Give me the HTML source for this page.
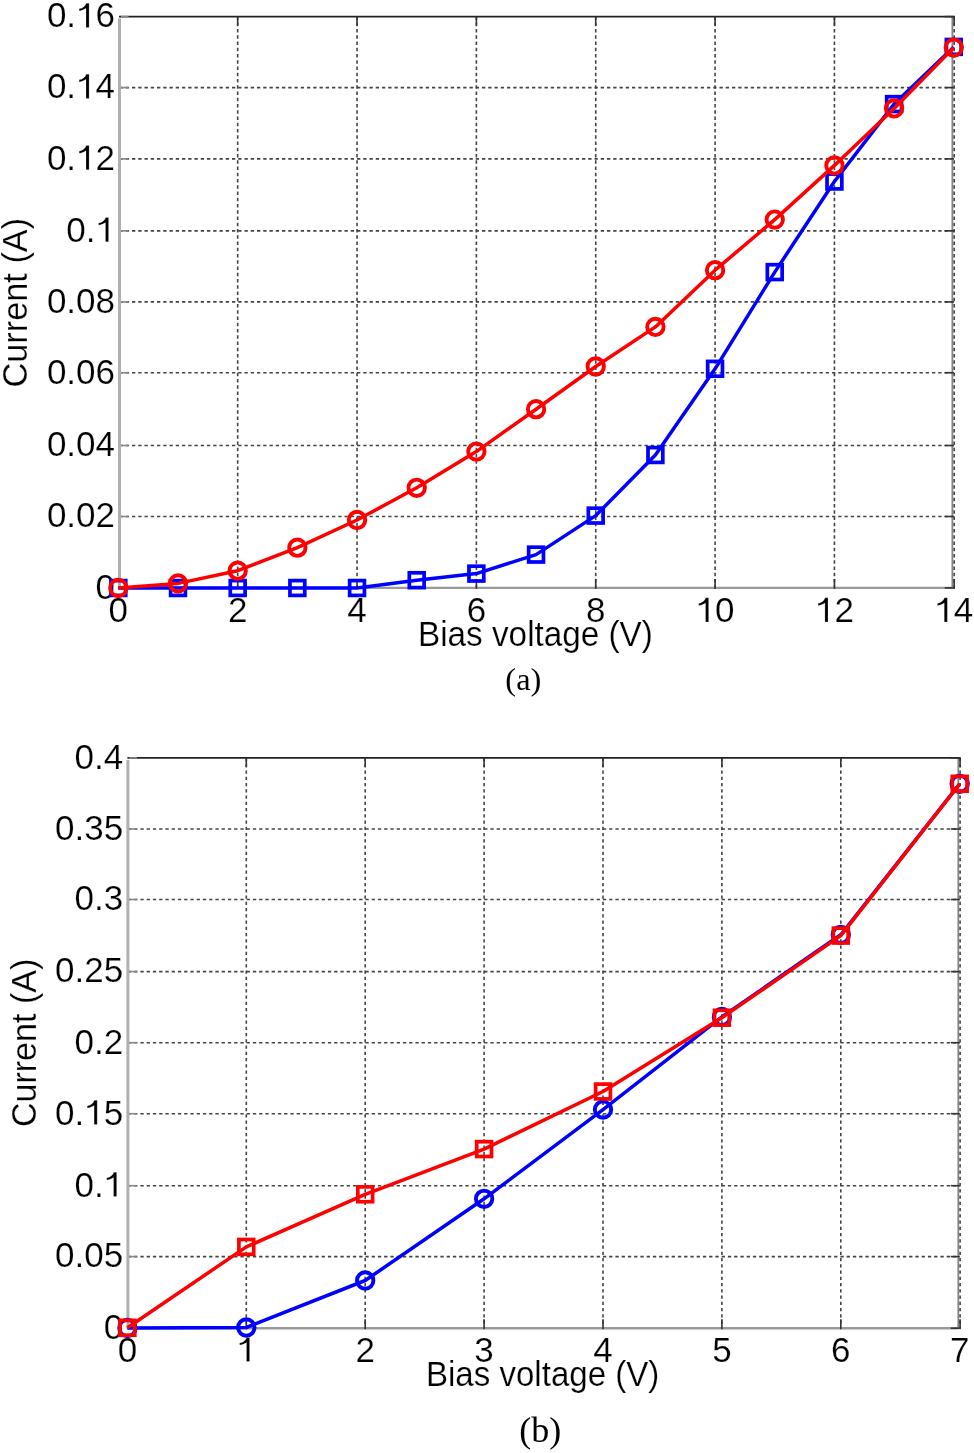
<!DOCTYPE html>
<html><head><meta charset="utf-8"><style>
html,body{margin:0;padding:0;background:#fff;width:974px;height:1453px;overflow:hidden}
svg{display:block;will-change:transform}
.t{font-family:"Liberation Sans",sans-serif;font-size:35px;fill:#000;stroke:#fff;stroke-width:0.2px}
.s{font-family:"Liberation Serif",serif;fill:#000}
</style></head><body>
<svg width="974" height="1453" viewBox="0 0 974 1453">
<line x1="237.69" y1="16.6" x2="237.69" y2="587.9" stroke="#444" stroke-width="1.6" stroke-dasharray="3.3 2.95"/>
<line x1="357.04" y1="16.6" x2="357.04" y2="587.9" stroke="#444" stroke-width="1.6" stroke-dasharray="3.3 2.95"/>
<line x1="476.38" y1="16.6" x2="476.38" y2="587.9" stroke="#444" stroke-width="1.6" stroke-dasharray="3.3 2.95"/>
<line x1="595.73" y1="16.6" x2="595.73" y2="587.9" stroke="#444" stroke-width="1.6" stroke-dasharray="3.3 2.95"/>
<line x1="715.08" y1="16.6" x2="715.08" y2="587.9" stroke="#444" stroke-width="1.6" stroke-dasharray="3.3 2.95"/>
<line x1="834.43" y1="16.6" x2="834.43" y2="587.9" stroke="#444" stroke-width="1.6" stroke-dasharray="3.3 2.95"/>
<line x1="119.5" y1="516.5" x2="953.78" y2="516.5" stroke="#444" stroke-width="1.6" stroke-dasharray="3.3 2.95"/>
<line x1="119.5" y1="445.5" x2="953.78" y2="445.5" stroke="#444" stroke-width="1.6" stroke-dasharray="3.3 2.95"/>
<line x1="119.5" y1="372.7" x2="953.78" y2="372.7" stroke="#444" stroke-width="1.6" stroke-dasharray="3.3 2.95"/>
<line x1="119.5" y1="301.9" x2="953.78" y2="301.9" stroke="#444" stroke-width="1.6" stroke-dasharray="3.3 2.95"/>
<line x1="119.5" y1="230.85" x2="953.78" y2="230.85" stroke="#444" stroke-width="1.6" stroke-dasharray="3.3 2.95"/>
<line x1="119.5" y1="158.9" x2="953.78" y2="158.9" stroke="#444" stroke-width="1.6" stroke-dasharray="3.3 2.95"/>
<line x1="119.5" y1="87.6" x2="953.78" y2="87.6" stroke="#444" stroke-width="1.6" stroke-dasharray="3.3 2.95"/>
<line x1="952.38" y1="16.6" x2="952.38" y2="587.9" stroke="#858585" stroke-width="1.8"/>
<line x1="954.18" y1="16.6" x2="954.18" y2="587.9" stroke="#444" stroke-width="1.6" stroke-dasharray="3.3 2.95"/>
<line x1="119" y1="16.6" x2="954.78" y2="16.6" stroke="#222" stroke-width="1.8"/>
<line x1="119.5" y1="18.6" x2="119.5" y2="588.9" stroke="#b0b0b0" stroke-width="3"/>
<line x1="119.5" y1="587.9" x2="952.28" y2="587.9" stroke="#999" stroke-width="2.4"/>
<line x1="121" y1="587.9" x2="128.5" y2="587.9" stroke="#888" stroke-width="1.6"/>
<line x1="953.78" y1="587.9" x2="944.78" y2="587.9" stroke="#333" stroke-width="1.6"/>
<line x1="121" y1="516.5" x2="128.5" y2="516.5" stroke="#888" stroke-width="1.6"/>
<line x1="953.78" y1="516.5" x2="944.78" y2="516.5" stroke="#333" stroke-width="1.6"/>
<line x1="121" y1="445.5" x2="128.5" y2="445.5" stroke="#888" stroke-width="1.6"/>
<line x1="953.78" y1="445.5" x2="944.78" y2="445.5" stroke="#333" stroke-width="1.6"/>
<line x1="121" y1="372.7" x2="128.5" y2="372.7" stroke="#888" stroke-width="1.6"/>
<line x1="953.78" y1="372.7" x2="944.78" y2="372.7" stroke="#333" stroke-width="1.6"/>
<line x1="121" y1="301.9" x2="128.5" y2="301.9" stroke="#888" stroke-width="1.6"/>
<line x1="953.78" y1="301.9" x2="944.78" y2="301.9" stroke="#333" stroke-width="1.6"/>
<line x1="121" y1="230.85" x2="128.5" y2="230.85" stroke="#888" stroke-width="1.6"/>
<line x1="953.78" y1="230.85" x2="944.78" y2="230.85" stroke="#333" stroke-width="1.6"/>
<line x1="121" y1="158.9" x2="128.5" y2="158.9" stroke="#888" stroke-width="1.6"/>
<line x1="953.78" y1="158.9" x2="944.78" y2="158.9" stroke="#333" stroke-width="1.6"/>
<line x1="121" y1="87.6" x2="128.5" y2="87.6" stroke="#888" stroke-width="1.6"/>
<line x1="953.78" y1="87.6" x2="944.78" y2="87.6" stroke="#333" stroke-width="1.6"/>
<line x1="121" y1="16.6" x2="128.5" y2="16.6" stroke="#888" stroke-width="1.6"/>
<line x1="953.78" y1="16.6" x2="944.78" y2="16.6" stroke="#333" stroke-width="1.6"/>
<line x1="237.69" y1="588.9" x2="237.69" y2="578.9" stroke="#333" stroke-width="1.6"/>
<line x1="237.69" y1="16.6" x2="237.69" y2="25.6" stroke="#333" stroke-width="1.6"/>
<line x1="357.04" y1="588.9" x2="357.04" y2="578.9" stroke="#333" stroke-width="1.6"/>
<line x1="357.04" y1="16.6" x2="357.04" y2="25.6" stroke="#333" stroke-width="1.6"/>
<line x1="476.38" y1="588.9" x2="476.38" y2="578.9" stroke="#333" stroke-width="1.6"/>
<line x1="476.38" y1="16.6" x2="476.38" y2="25.6" stroke="#333" stroke-width="1.6"/>
<line x1="595.73" y1="588.9" x2="595.73" y2="578.9" stroke="#333" stroke-width="1.6"/>
<line x1="595.73" y1="16.6" x2="595.73" y2="25.6" stroke="#333" stroke-width="1.6"/>
<line x1="715.08" y1="588.9" x2="715.08" y2="578.9" stroke="#333" stroke-width="1.6"/>
<line x1="715.08" y1="16.6" x2="715.08" y2="25.6" stroke="#333" stroke-width="1.6"/>
<line x1="834.43" y1="588.9" x2="834.43" y2="578.9" stroke="#333" stroke-width="1.6"/>
<line x1="834.43" y1="16.6" x2="834.43" y2="25.6" stroke="#333" stroke-width="1.6"/>
<line x1="954.18" y1="588.9" x2="954.18" y2="578.9" stroke="#333" stroke-width="1.6"/>
<line x1="954.18" y1="16.6" x2="954.18" y2="25.6" stroke="#333" stroke-width="1.6"/>
<text x="95.54" y="598.7" class="t">0</text>
<text x="46.89" y="527.3" class="t">0.02</text>
<text x="46.89" y="456.3" class="t">0.04</text>
<text x="46.89" y="383.5" class="t">0.06</text>
<text x="46.89" y="312.7" class="t">0.08</text>
<text x="66.35" y="241.65" class="t">0.</text>
<path transform="translate(95.54,241.65) scale(35,-35)" d="M0.372 0L0.284 0L0.284 0.545C0.24 0.51 0.17 0.482 0.09 0.472L0.086 0.53C0.19 0.545 0.255 0.6 0.29 0.69L0.372 0.69Z" fill="#000" stroke="#fff" stroke-width="0.0057"/>
<text x="46.89" y="169.7" class="t">0.</text>
<path transform="translate(76.08,169.7) scale(35,-35)" d="M0.372 0L0.284 0L0.284 0.545C0.24 0.51 0.17 0.482 0.09 0.472L0.086 0.53C0.19 0.545 0.255 0.6 0.29 0.69L0.372 0.69Z" fill="#000" stroke="#fff" stroke-width="0.0057"/>
<text x="95.54" y="169.7" class="t">2</text>
<text x="46.89" y="98.4" class="t">0.</text>
<path transform="translate(76.08,98.4) scale(35,-35)" d="M0.372 0L0.284 0L0.284 0.545C0.24 0.51 0.17 0.482 0.09 0.472L0.086 0.53C0.19 0.545 0.255 0.6 0.29 0.69L0.372 0.69Z" fill="#000" stroke="#fff" stroke-width="0.0057"/>
<text x="95.54" y="98.4" class="t">4</text>
<text x="46.89" y="27.4" class="t">0.</text>
<path transform="translate(76.08,27.4) scale(35,-35)" d="M0.372 0L0.284 0L0.284 0.545C0.24 0.51 0.17 0.482 0.09 0.472L0.086 0.53C0.19 0.545 0.255 0.6 0.29 0.69L0.372 0.69Z" fill="#000" stroke="#fff" stroke-width="0.0057"/>
<text x="95.54" y="27.4" class="t">6</text>
<text x="108.61" y="622" class="t">0</text>
<text x="227.96" y="622" class="t">2</text>
<text x="347.31" y="622" class="t">4</text>
<text x="466.65" y="622" class="t">6</text>
<text x="586" y="622" class="t">8</text>
<path transform="translate(695.62,622) scale(35,-35)" d="M0.372 0L0.284 0L0.284 0.545C0.24 0.51 0.17 0.482 0.09 0.472L0.086 0.53C0.19 0.545 0.255 0.6 0.29 0.69L0.372 0.69Z" fill="#000" stroke="#fff" stroke-width="0.0057"/>
<text x="715.08" y="622" class="t">0</text>
<path transform="translate(814.97,622) scale(35,-35)" d="M0.372 0L0.284 0L0.284 0.545C0.24 0.51 0.17 0.482 0.09 0.472L0.086 0.53C0.19 0.545 0.255 0.6 0.29 0.69L0.372 0.69Z" fill="#000" stroke="#fff" stroke-width="0.0057"/>
<text x="834.43" y="622" class="t">2</text>
<path transform="translate(934.32,622) scale(35,-35)" d="M0.372 0L0.284 0L0.284 0.545C0.24 0.51 0.17 0.482 0.09 0.472L0.086 0.53C0.19 0.545 0.255 0.6 0.29 0.69L0.372 0.69Z" fill="#000" stroke="#fff" stroke-width="0.0057"/>
<text x="953.78" y="622" class="t">4</text>
<polyline points="118.34,588 178.01,588 237.69,588 297.36,588 357.04,588 416.71,580.2 476.38,573.6 536.06,554.6 595.73,515.6 655.41,455 715.08,368.8 774.75,272.1 834.43,181.5 894.1,104.1 953.78,46.9" fill="none" stroke="#0000ff" stroke-width="3.5" stroke-linejoin="round"/>
<rect x="110.94" y="580.6" width="14.8" height="14.8" fill="none" stroke="#0000ff" stroke-width="3.7"/>
<rect x="170.61" y="580.6" width="14.8" height="14.8" fill="none" stroke="#0000ff" stroke-width="3.7"/>
<rect x="230.29" y="580.6" width="14.8" height="14.8" fill="none" stroke="#0000ff" stroke-width="3.7"/>
<rect x="289.96" y="580.6" width="14.8" height="14.8" fill="none" stroke="#0000ff" stroke-width="3.7"/>
<rect x="349.64" y="580.6" width="14.8" height="14.8" fill="none" stroke="#0000ff" stroke-width="3.7"/>
<rect x="409.31" y="572.8" width="14.8" height="14.8" fill="none" stroke="#0000ff" stroke-width="3.7"/>
<rect x="468.98" y="566.2" width="14.8" height="14.8" fill="none" stroke="#0000ff" stroke-width="3.7"/>
<rect x="528.66" y="547.2" width="14.8" height="14.8" fill="none" stroke="#0000ff" stroke-width="3.7"/>
<rect x="588.33" y="508.2" width="14.8" height="14.8" fill="none" stroke="#0000ff" stroke-width="3.7"/>
<rect x="648.01" y="447.6" width="14.8" height="14.8" fill="none" stroke="#0000ff" stroke-width="3.7"/>
<rect x="707.68" y="361.4" width="14.8" height="14.8" fill="none" stroke="#0000ff" stroke-width="3.7"/>
<rect x="767.35" y="264.7" width="14.8" height="14.8" fill="none" stroke="#0000ff" stroke-width="3.7"/>
<rect x="827.03" y="174.1" width="14.8" height="14.8" fill="none" stroke="#0000ff" stroke-width="3.7"/>
<rect x="886.7" y="96.7" width="14.8" height="14.8" fill="none" stroke="#0000ff" stroke-width="3.7"/>
<rect x="946.38" y="39.5" width="14.8" height="14.8" fill="none" stroke="#0000ff" stroke-width="3.7"/>
<polyline points="118.34,588 178.01,583.4 237.69,570.7 297.36,547.7 357.04,520 416.71,487.8 476.38,451.6 536.06,409.2 595.73,366.5 655.41,326.9 715.08,270.2 774.75,219.6 834.43,165.4 894.1,108.4 953.78,47.6" fill="none" stroke="#ff0000" stroke-width="3.5" stroke-linejoin="round"/>
<circle cx="118.34" cy="588" r="8.2" fill="none" stroke="#ff0000" stroke-width="3.9"/>
<circle cx="178.01" cy="583.4" r="8.2" fill="none" stroke="#ff0000" stroke-width="3.9"/>
<circle cx="237.69" cy="570.7" r="8.2" fill="none" stroke="#ff0000" stroke-width="3.9"/>
<circle cx="297.36" cy="547.7" r="8.2" fill="none" stroke="#ff0000" stroke-width="3.9"/>
<circle cx="357.04" cy="520" r="8.2" fill="none" stroke="#ff0000" stroke-width="3.9"/>
<circle cx="416.71" cy="487.8" r="8.2" fill="none" stroke="#ff0000" stroke-width="3.9"/>
<circle cx="476.38" cy="451.6" r="8.2" fill="none" stroke="#ff0000" stroke-width="3.9"/>
<circle cx="536.06" cy="409.2" r="8.2" fill="none" stroke="#ff0000" stroke-width="3.9"/>
<circle cx="595.73" cy="366.5" r="8.2" fill="none" stroke="#ff0000" stroke-width="3.9"/>
<circle cx="655.41" cy="326.9" r="8.2" fill="none" stroke="#ff0000" stroke-width="3.9"/>
<circle cx="715.08" cy="270.2" r="8.2" fill="none" stroke="#ff0000" stroke-width="3.9"/>
<circle cx="774.75" cy="219.6" r="8.2" fill="none" stroke="#ff0000" stroke-width="3.9"/>
<circle cx="834.43" cy="165.4" r="8.2" fill="none" stroke="#ff0000" stroke-width="3.9"/>
<circle cx="894.1" cy="108.4" r="8.2" fill="none" stroke="#ff0000" stroke-width="3.9"/>
<circle cx="953.78" cy="47.6" r="8.2" fill="none" stroke="#ff0000" stroke-width="3.9"/>
<text transform="translate(418.01,646.4) scale(0.9511,1)" font-size="34.45" class="t">Bias voltage (V)</text>
<text transform="translate(27.1,387.52) rotate(-90) scale(0.9807,1)" font-size="34.30" class="t">Current (A)</text>
<text x="505.37" y="690.1" font-size="32.4" class="s">(a)</text>
<line x1="246.3" y1="757.9" x2="246.3" y2="1328.2" stroke="#444" stroke-width="1.6" stroke-dasharray="3.3 2.95"/>
<line x1="365.2" y1="757.9" x2="365.2" y2="1328.2" stroke="#444" stroke-width="1.6" stroke-dasharray="3.3 2.95"/>
<line x1="484.1" y1="757.9" x2="484.1" y2="1328.2" stroke="#444" stroke-width="1.6" stroke-dasharray="3.3 2.95"/>
<line x1="603" y1="757.9" x2="603" y2="1328.2" stroke="#444" stroke-width="1.6" stroke-dasharray="3.3 2.95"/>
<line x1="721.9" y1="757.9" x2="721.9" y2="1328.2" stroke="#444" stroke-width="1.6" stroke-dasharray="3.3 2.95"/>
<line x1="840.8" y1="757.9" x2="840.8" y2="1328.2" stroke="#444" stroke-width="1.6" stroke-dasharray="3.3 2.95"/>
<line x1="127.9" y1="1256.6" x2="959.7" y2="1256.6" stroke="#444" stroke-width="1.6" stroke-dasharray="3.3 2.95"/>
<line x1="127.9" y1="1185.7" x2="959.7" y2="1185.7" stroke="#444" stroke-width="1.6" stroke-dasharray="3.3 2.95"/>
<line x1="127.9" y1="1113.7" x2="959.7" y2="1113.7" stroke="#444" stroke-width="1.6" stroke-dasharray="3.3 2.95"/>
<line x1="127.9" y1="1042.7" x2="959.7" y2="1042.7" stroke="#444" stroke-width="1.6" stroke-dasharray="3.3 2.95"/>
<line x1="127.9" y1="971.6" x2="959.7" y2="971.6" stroke="#444" stroke-width="1.6" stroke-dasharray="3.3 2.95"/>
<line x1="127.9" y1="899.5" x2="959.7" y2="899.5" stroke="#444" stroke-width="1.6" stroke-dasharray="3.3 2.95"/>
<line x1="127.9" y1="829" x2="959.7" y2="829" stroke="#444" stroke-width="1.6" stroke-dasharray="3.3 2.95"/>
<line x1="958.3" y1="757.9" x2="958.3" y2="1328.2" stroke="#858585" stroke-width="1.8"/>
<line x1="960.1" y1="757.9" x2="960.1" y2="1328.2" stroke="#444" stroke-width="1.6" stroke-dasharray="3.3 2.95"/>
<line x1="127.4" y1="757.9" x2="960.7" y2="757.9" stroke="#222" stroke-width="1.8"/>
<line x1="127.9" y1="759.9" x2="127.9" y2="1329.2" stroke="#b0b0b0" stroke-width="3"/>
<line x1="127.9" y1="1328.2" x2="958.2" y2="1328.2" stroke="#999" stroke-width="2.4"/>
<line x1="129.4" y1="1328.2" x2="136.9" y2="1328.2" stroke="#888" stroke-width="1.6"/>
<line x1="959.7" y1="1328.2" x2="950.7" y2="1328.2" stroke="#333" stroke-width="1.6"/>
<line x1="129.4" y1="1256.6" x2="136.9" y2="1256.6" stroke="#888" stroke-width="1.6"/>
<line x1="959.7" y1="1256.6" x2="950.7" y2="1256.6" stroke="#333" stroke-width="1.6"/>
<line x1="129.4" y1="1185.7" x2="136.9" y2="1185.7" stroke="#888" stroke-width="1.6"/>
<line x1="959.7" y1="1185.7" x2="950.7" y2="1185.7" stroke="#333" stroke-width="1.6"/>
<line x1="129.4" y1="1113.7" x2="136.9" y2="1113.7" stroke="#888" stroke-width="1.6"/>
<line x1="959.7" y1="1113.7" x2="950.7" y2="1113.7" stroke="#333" stroke-width="1.6"/>
<line x1="129.4" y1="1042.7" x2="136.9" y2="1042.7" stroke="#888" stroke-width="1.6"/>
<line x1="959.7" y1="1042.7" x2="950.7" y2="1042.7" stroke="#333" stroke-width="1.6"/>
<line x1="129.4" y1="971.6" x2="136.9" y2="971.6" stroke="#888" stroke-width="1.6"/>
<line x1="959.7" y1="971.6" x2="950.7" y2="971.6" stroke="#333" stroke-width="1.6"/>
<line x1="129.4" y1="899.5" x2="136.9" y2="899.5" stroke="#888" stroke-width="1.6"/>
<line x1="959.7" y1="899.5" x2="950.7" y2="899.5" stroke="#333" stroke-width="1.6"/>
<line x1="129.4" y1="829" x2="136.9" y2="829" stroke="#888" stroke-width="1.6"/>
<line x1="959.7" y1="829" x2="950.7" y2="829" stroke="#333" stroke-width="1.6"/>
<line x1="129.4" y1="757.9" x2="136.9" y2="757.9" stroke="#888" stroke-width="1.6"/>
<line x1="959.7" y1="757.9" x2="950.7" y2="757.9" stroke="#333" stroke-width="1.6"/>
<line x1="246.3" y1="1329.2" x2="246.3" y2="1319.2" stroke="#333" stroke-width="1.6"/>
<line x1="246.3" y1="757.9" x2="246.3" y2="766.9" stroke="#333" stroke-width="1.6"/>
<line x1="365.2" y1="1329.2" x2="365.2" y2="1319.2" stroke="#333" stroke-width="1.6"/>
<line x1="365.2" y1="757.9" x2="365.2" y2="766.9" stroke="#333" stroke-width="1.6"/>
<line x1="484.1" y1="1329.2" x2="484.1" y2="1319.2" stroke="#333" stroke-width="1.6"/>
<line x1="484.1" y1="757.9" x2="484.1" y2="766.9" stroke="#333" stroke-width="1.6"/>
<line x1="603" y1="1329.2" x2="603" y2="1319.2" stroke="#333" stroke-width="1.6"/>
<line x1="603" y1="757.9" x2="603" y2="766.9" stroke="#333" stroke-width="1.6"/>
<line x1="721.9" y1="1329.2" x2="721.9" y2="1319.2" stroke="#333" stroke-width="1.6"/>
<line x1="721.9" y1="757.9" x2="721.9" y2="766.9" stroke="#333" stroke-width="1.6"/>
<line x1="840.8" y1="1329.2" x2="840.8" y2="1319.2" stroke="#333" stroke-width="1.6"/>
<line x1="840.8" y1="757.9" x2="840.8" y2="766.9" stroke="#333" stroke-width="1.6"/>
<line x1="960.1" y1="1329.2" x2="960.1" y2="1319.2" stroke="#333" stroke-width="1.6"/>
<line x1="960.1" y1="757.9" x2="960.1" y2="766.9" stroke="#333" stroke-width="1.6"/>
<text x="103.64" y="1339" class="t">0</text>
<text x="54.99" y="1267.4" class="t">0.05</text>
<text x="74.45" y="1196.5" class="t">0.</text>
<path transform="translate(103.64,1196.5) scale(35,-35)" d="M0.372 0L0.284 0L0.284 0.545C0.24 0.51 0.17 0.482 0.09 0.472L0.086 0.53C0.19 0.545 0.255 0.6 0.29 0.69L0.372 0.69Z" fill="#000" stroke="#fff" stroke-width="0.0057"/>
<text x="54.99" y="1124.5" class="t">0.</text>
<path transform="translate(84.18,1124.5) scale(35,-35)" d="M0.372 0L0.284 0L0.284 0.545C0.24 0.51 0.17 0.482 0.09 0.472L0.086 0.53C0.19 0.545 0.255 0.6 0.29 0.69L0.372 0.69Z" fill="#000" stroke="#fff" stroke-width="0.0057"/>
<text x="103.64" y="1124.5" class="t">5</text>
<text x="74.45" y="1053.5" class="t">0.2</text>
<text x="54.99" y="982.4" class="t">0.25</text>
<text x="74.45" y="910.3" class="t">0.3</text>
<text x="54.99" y="839.8" class="t">0.35</text>
<text x="74.45" y="768.7" class="t">0.4</text>
<text x="117.67" y="1361.6" class="t">0</text>
<path transform="translate(236.57,1361.6) scale(35,-35)" d="M0.372 0L0.284 0L0.284 0.545C0.24 0.51 0.17 0.482 0.09 0.472L0.086 0.53C0.19 0.545 0.255 0.6 0.29 0.69L0.372 0.69Z" fill="#000" stroke="#fff" stroke-width="0.0057"/>
<text x="355.47" y="1361.6" class="t">2</text>
<text x="474.37" y="1361.6" class="t">3</text>
<text x="593.27" y="1361.6" class="t">4</text>
<text x="712.17" y="1361.6" class="t">5</text>
<text x="831.07" y="1361.6" class="t">6</text>
<text x="949.97" y="1361.6" class="t">7</text>
<polyline points="127.4,1328 246.3,1327.5 365.2,1280.5 484.1,1198.8 603,1109.6 721.9,1016.9 840.8,934.8 959.7,783.8" fill="none" stroke="#0000ff" stroke-width="3.5" stroke-linejoin="round"/>
<circle cx="127.4" cy="1328" r="8.2" fill="none" stroke="#0000ff" stroke-width="3.9"/>
<circle cx="246.3" cy="1327.5" r="8.2" fill="none" stroke="#0000ff" stroke-width="3.9"/>
<circle cx="365.2" cy="1280.5" r="8.2" fill="none" stroke="#0000ff" stroke-width="3.9"/>
<circle cx="484.1" cy="1198.8" r="8.2" fill="none" stroke="#0000ff" stroke-width="3.9"/>
<circle cx="603" cy="1109.6" r="8.2" fill="none" stroke="#0000ff" stroke-width="3.9"/>
<circle cx="721.9" cy="1016.9" r="8.2" fill="none" stroke="#0000ff" stroke-width="3.9"/>
<circle cx="840.8" cy="934.8" r="8.2" fill="none" stroke="#0000ff" stroke-width="3.9"/>
<circle cx="959.7" cy="783.8" r="8.2" fill="none" stroke="#0000ff" stroke-width="3.9"/>
<polyline points="127.4,1327.8 246.3,1246.9 365.2,1194.3 484.1,1149.1 603,1091.5 721.9,1017.7 840.8,935.6 959.7,783.8" fill="none" stroke="#ff0000" stroke-width="3.5" stroke-linejoin="round"/>
<rect x="120" y="1320.4" width="14.8" height="14.8" fill="none" stroke="#ff0000" stroke-width="3.7"/>
<rect x="238.9" y="1239.5" width="14.8" height="14.8" fill="none" stroke="#ff0000" stroke-width="3.7"/>
<rect x="357.8" y="1186.9" width="14.8" height="14.8" fill="none" stroke="#ff0000" stroke-width="3.7"/>
<rect x="476.7" y="1141.7" width="14.8" height="14.8" fill="none" stroke="#ff0000" stroke-width="3.7"/>
<rect x="595.6" y="1084.1" width="14.8" height="14.8" fill="none" stroke="#ff0000" stroke-width="3.7"/>
<rect x="714.5" y="1010.3" width="14.8" height="14.8" fill="none" stroke="#ff0000" stroke-width="3.7"/>
<rect x="833.4" y="928.2" width="14.8" height="14.8" fill="none" stroke="#ff0000" stroke-width="3.7"/>
<rect x="952.3" y="776.4" width="14.8" height="14.8" fill="none" stroke="#ff0000" stroke-width="3.7"/>
<text transform="translate(425.92,1385.7) scale(0.9450,1)" font-size="34.59" class="t">Bias voltage (V)</text>
<text transform="translate(35.9,1127.1) rotate(-90) scale(0.9732,1)" font-size="34.30" class="t">Current (A)</text>
<text x="519.22" y="1442" font-size="36" class="s">(b)</text>
</svg>
</body></html>
